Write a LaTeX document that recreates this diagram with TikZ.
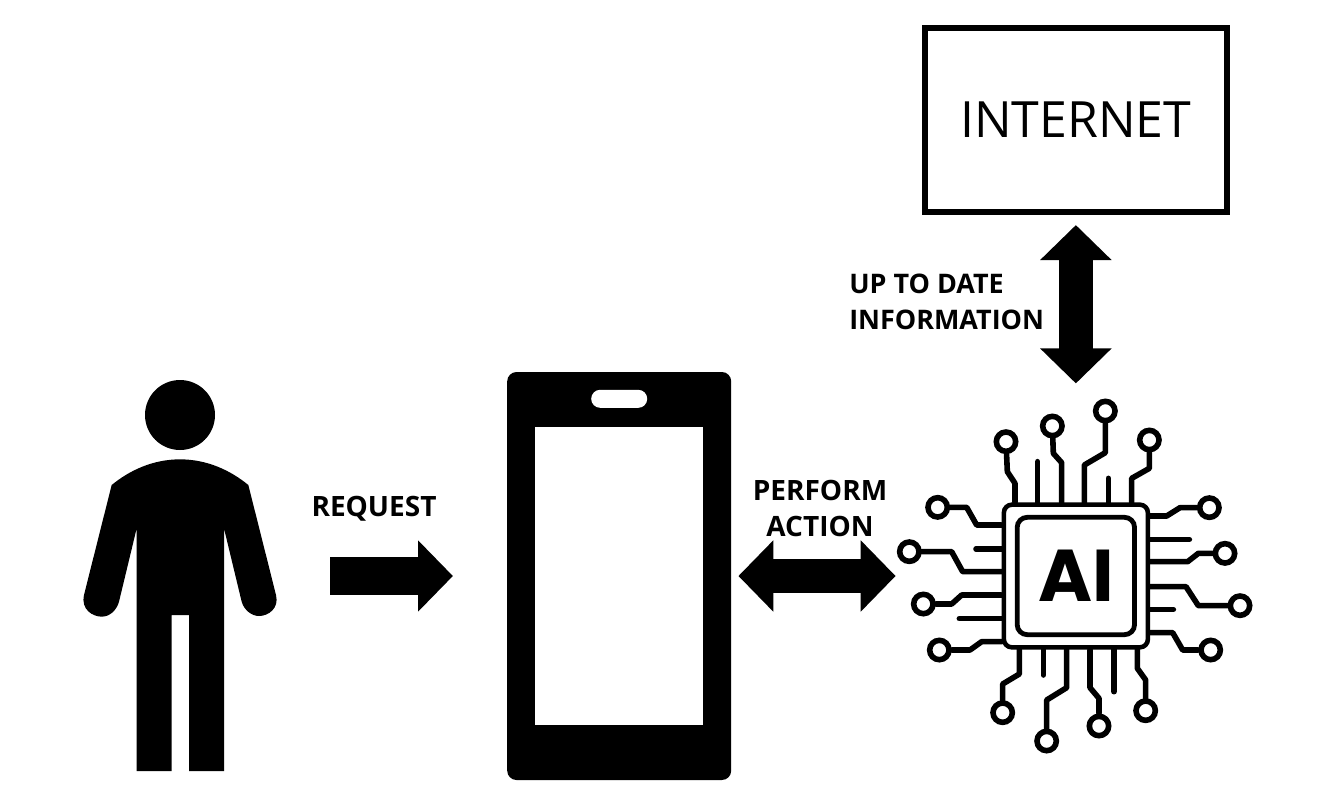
\documentclass[tikz,border=0pt]{standalone}
\usepackage{fontspec}
\setmainfont{Open Sans}
\newfontfamily\chipfont{Poppins}
\usetikzlibrary{arrows.meta,positioning}
\tikzstyle{phonebody} = [rectangle, fill=black, rounded corners=7pt, inner sep=0pt, minimum width=168pt, minimum height=306pt]
\tikzstyle{phonescreen} = [rectangle, fill=white, inner sep=0pt, minimum width=126pt, minimum height=223pt]
\tikzstyle{phonecam} = [rectangle, fill=white, rounded corners=6.7pt, inner sep=0pt, minimum width=42pt, minimum height=13.5pt]
\tikzstyle{personbox} = [rectangle, draw=none, fill=none, inner sep=0pt, minimum width=144pt, minimum height=292pt]
\tikzstyle{personhead} = [circle, fill=black, inner sep=0pt, minimum size=52.5pt]
\tikzstyle{netbox} = [rectangle, draw=black, line width=4.4pt, fill=white, inner sep=0pt, minimum width=226.5pt, minimum height=138pt, font=\fontsize{37.5}{44}\selectfont]
\tikzstyle{chipbox} = [rectangle, draw=black, line width=3.4pt, fill=white, rounded corners=6pt, inner sep=0pt, minimum width=108pt, minimum height=107pt]
\tikzstyle{chipcore} = [rectangle, draw=black, line width=3.6pt, fill=white, rounded corners=7.5pt, inner sep=0pt, minimum width=88pt, minimum height=88pt, font=\chipfont\bfseries\fontsize{55}{60}\selectfont]
\tikzstyle{pad} = [circle, draw=black, line width=4.2pt, fill=white, inner sep=0pt, minimum size=14.5pt]
\tikzstyle{trace} = [draw, line width=4.2pt, line cap=round, line join=round]
\tikzstyle{textonly} = [draw=none, fill=none, inner sep=0pt, font=\bfseries\fontsize{21}{27}\selectfont]
\tikzstyle{fatarrow} = [draw, line width=24.8pt, -{Triangle[length=26.2pt, width=52pt]}]
\tikzstyle{fatboth} = [draw, line width=24.8pt, {Triangle[length=26.2pt, width=52pt]}-{Triangle[length=26.2pt, width=52pt]}]

\begin{document}
\begin{tikzpicture}[x=0.75pt, y=-0.75pt]
\useasboundingbox (0,0) rectangle (1335,804);

% blocks =============================
\node[personbox] (person) at (180,576) {};
\node[personhead] (head) at (180,415) {};
\node[phonebody, right=173pt of person] (phone) {};
\node[phonescreen] (screen) at (phone) {};
\node[phonecam, above=14.25pt of screen] (cam) {};
\node[chipbox, right=202.6pt of phone] (chip) {};
\node[chipcore] (core) at (chip) {AI};
\node[netbox, above=215.5pt of chip] (internet) {INTERNET};

% person outline
\begin{scope}[shift={(70,370)}, x=0.25pt, y=-0.25pt]
\fill[black] (330,268) .. controls (250,268) and (180,300) .. (125,345) -- (42,675)
  .. controls (32,720) and (70,740) .. (95,740) .. controls (120,740) and (140,720) .. (147,695)
  -- (200,475) -- (200,1203) -- (305,1203) -- (305,735) -- (357,735) -- (357,1203) -- (462,1203) -- (462,475)
  -- (515,695) .. controls (522,720) and (545,738) .. (567,738) .. controls (595,738) and (628,715) .. (618,675)
  -- (535,345) .. controls (480,300) and (410,268) .. (330,268) -- cycle;
\end{scope}

% labels
\node[textonly] (request) at (374,509) {REQUEST};
\node[textonly, align=center] (action) at (820,508) {PERFORM\\ACTION};
\node[textonly, font=\bfseries\fontsize{20.2}{27}\selectfont, align=left, anchor=west] (update) at (849,302) {UP TO DATE\\INFORMATION};

% edges
\path[fatarrow, line width=28.5pt, shorten <=40.5pt, shorten >=40.5pt] (person) -- (phone);
\path[fatboth, shorten <=5.2pt, shorten >=79.5pt] (phone) -- (chip);
\path[fatboth, line width=25.5pt, shorten <=7.5pt, shorten >=89.25pt] (internet) -- (chip);

% chip pins
\begin{scope}[shift={(890,390)}, x=0.25pt, y=-0.25pt]
\node[pad] (t1) at (348,155) {};
\node[pad] (t3) at (487,108) {};
\node[pad] (t4) at (646,63) {};
\node[pad] (t6) at (778,150) {};
\node[pad] (r1) at (958,353) {};
\node[pad] (r3) at (1005,490) {};
\node[pad] (r4) at (1050,647) {};
\node[pad] (r6) at (962,780) {};
\node[pad] (l1) at (143,352) {};
\node[pad] (l3) at (58,485) {};
\node[pad] (l4) at (100,642) {};
\node[pad] (l6) at (148,780) {};
\node[pad] (b1) at (338,968) {};
\node[pad] (b3) at (470,1053) {};
\node[pad] (b4) at (627,1008) {};
\node[pad] (b6) at (767,962) {};
\coordinate (t2) at (443,215);
\coordinate (t5) at (655,265);
\coordinate (r2) at (898,448);
\coordinate (r5) at (850,658);
\coordinate (l2) at (258,477);
\coordinate (l5) at (208,686);
\coordinate (b2) at (460,855);
\coordinate (b5) at (672,905);

% top
\path[trace] (t1) -- (352,245) -- (375,280) -- (375,0 |- chip.north);
\path[trace] (t2) -- (t2 |- chip.north);
\path[trace] (t3) -- (490,190) -- (515,218) -- (515,0 |- chip.north);
\path[trace] (t4) -- (646,188) -- (583,225) -- (583,0 |- chip.north);
\path[trace] (t5) -- (t5 |- chip.north);
\path[trace] (t6) -- (778,235) -- (725,265) -- (725,0 |- chip.north);
% right
\path[trace] (r1) -- (870,353) -- (830,378) -- (chip.east |- 0,378);
\path[trace] (r2) -- (r2 -| chip.east);
\path[trace] (r3) -- (925,490) -- (893,515) -- (chip.east |- 0,515);
\path[trace] (r4) -- (925,647) -- (888,590) -- (chip.east |- 0,590);
\path[trace] (r5) -- (r5 -| chip.east);
\path[trace] (r6) -- (878,780) -- (848,728) -- (chip.east |- 0,728);
% left
\path[trace] (l1) -- (230,352) -- (260,405) -- (chip.west |- 0,405);
\path[trace] (l2) -- (l2 -| chip.west);
\path[trace] (l3) -- (185,485) -- (218,545) -- (chip.west |- 0,545);
\path[trace] (l4) -- (185,642) -- (215,615) -- (chip.west |- 0,615);
\path[trace] (l5) -- (l5 -| chip.west);
\path[trace] (l6) -- (240,780) -- (275,755) -- (chip.west |- 0,755);
% bottom
\path[trace] (b1) -- (338,882) -- (388,852) -- (388,0 |- chip.south);
\path[trace] (b2) -- (b2 |- chip.south);
\path[trace] (b3) -- (470,930) -- (530,893) -- (530,0 |- chip.south);
\path[trace] (b4) -- (627,925) -- (600,893) -- (600,0 |- chip.south);
\path[trace] (b5) -- (b5 |- chip.south);
\path[trace] (b6) -- (767,870) -- (742,835) -- (742,0 |- chip.south);
\end{scope}

\end{tikzpicture}
\end{document}
